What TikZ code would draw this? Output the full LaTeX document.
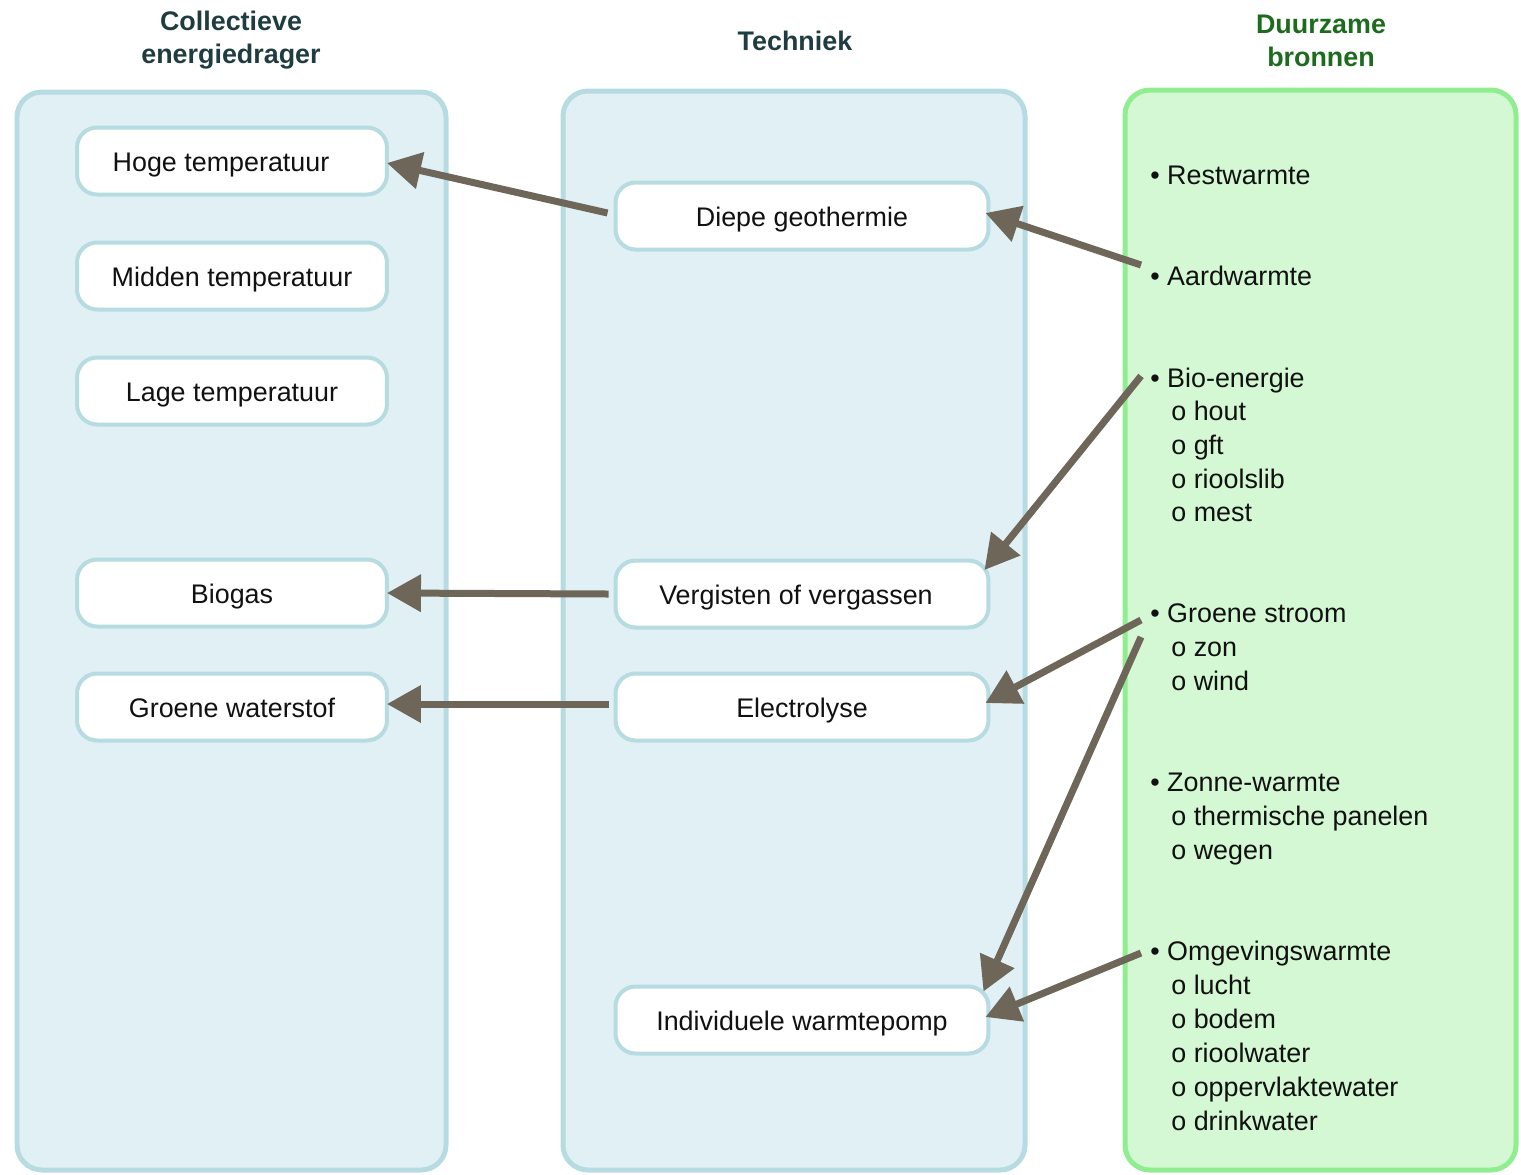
\documentclass[tikz,border=0pt]{standalone}
\usepackage{fontspec}
\setmainfont{Liberation Sans}
\usetikzlibrary{arrows.meta,calc}
\definecolor{colborder}{HTML}{B6DCE2}
\definecolor{colfill}{HTML}{E0F0F4}
\definecolor{grborder}{HTML}{90EE90}
\definecolor{grfill}{HTML}{D3F8D3}
\definecolor{arrcol}{HTML}{6E6759}
\definecolor{headblue}{HTML}{1F3C40}
\definecolor{headgreen}{HTML}{1D6B1D}
\definecolor{txt}{HTML}{111111}
\begin{document}
\begin{tikzpicture}[x=0.02cm,y=-0.02cm,
  column/.style={draw=colborder,fill=colfill,line width=0.1cm,rounded corners=0.5cm},
  gcolumn/.style={draw=grborder,fill=grfill,line width=0.1cm,rounded corners=0.5cm},
  leftbox/.style={draw=colborder,fill=white,line width=0.08cm,rounded corners=0.4cm,
    minimum width=6.2cm,minimum height=1.34cm,inner sep=0pt,text=txt,
    text height=0.46cm,text depth=0.06cm,
    font=\fontsize{15.3}{19}\selectfont},
  midbox/.style={leftbox,minimum width=7.46cm},
  head/.style={font=\fontsize{15.3}{18.7}\selectfont\bfseries,align=center,text=headblue},
  item/.style={anchor=base west,inner sep=0pt,text=txt,font=\fontsize{15.3}{19}\selectfont},
  arr/.style={draw=arrcol,line width=0.14cm,-{Triangle[length=0.68cm,width=0.72cm]}}
]
\useasboundingbox (0,0) rectangle (1521,1174);

% columns
\draw[column] (17,92) rectangle (446,1170);
\draw[column] (563,91) rectangle (1025,1170);
\draw[gcolumn] (1125,90) rectangle (1516,1170);

% headers
\node[head] (hA) at (231,40) {Collectieve\\energiedrager};
\node[head] (hB) at (795,41) {Techniek};
\node[head,text=headgreen] (hC) at (1321,41) {Duurzame\\bronnen};

% left column
\node[leftbox] (hoge) at (232,161) {Hoge temperatuur\hspace*{0.44cm}};
\node[leftbox] (midden) at (232,276) {Midden temperatuur};
\node[leftbox] (lage) at (232,391) {Lage temperatuur};
\node[leftbox] (biogas) at (232,593) {Biogas};
\node[leftbox] (gw) at (232,707) {Groene waterstof};

% middle column
\node[midbox] (diepe) at (802,216) {Diepe geothermie};
\node[midbox] (verg) at (802,594) {Vergisten of vergassen\hspace*{0.24cm}};
\node[midbox] (elec) at (802,707) {Electrolyse};
\node[midbox] (ind) at (802,1020) {Individuele warmtepomp};

% right column
\node[item] (rest) at (1150,184) {• Restwarmte};
\node[item] (aard) at (1150,285) {• Aardwarmte};
\node[item] (bio) at (1150,387) {• Bio-energie};
\node[item] (hout) at (1171,420) {o hout};
\node[item] (gft) at (1171,454) {o gft};
\node[item] (riool) at (1171,488) {o rioolslib};
\node[item] (mest) at (1171,521) {o mest};
\node[item] (gs) at (1150,622) {• Groene stroom};
\node[item] (zon) at (1171,656) {o zon};
\node[item] (wind) at (1171,690) {o wind};
\node[item] (zw) at (1150,791) {• Zonne-warmte};
\node[item] (therm) at (1171,825) {o thermische panelen};
\node[item] (wegen) at (1171,859) {o wegen};
\node[item] (omg) at (1150,960) {• Omgevingswarmte};
\node[item] (lucht) at (1171,994) {o lucht};
\node[item] (bodem) at (1171,1028) {o bodem};
\node[item] (rw) at (1171,1062) {o rioolwater};
\node[item] (opp) at (1171,1096) {o oppervlaktewater};
\node[item] (drink) at (1171,1130) {o drinkwater};

% arrows
\draw[arr] ($(diepe.west)+(-6,-3)$) -- ($(hoge.east)+(-2,2)$);
\draw[arr] ($(aard.base west)+(-9,-20)$) -- ($(diepe.east)+(-5,-3)$);
\draw[arr] ($(bio.base west)+(-9,-11)$) -- ($(verg.east)+(-6,-24)$);
\draw[arr] ($(verg.west)+(-5,0)$) -- ($(biogas.east)+(-2,0)$);
\draw[arr] ($(elec.west)+(-5,-3)$) -- ($(gw.east)+(-2,-3)$);
\draw[arr] ($(gs.base west)+(-9,-2)$) -- ($(elec.east)+(-5,-4)$);
\draw[arr] ($(gs.base west)+(-9,15)$) -- ($(ind.north east)+(-7,7)$);
\draw[arr] ($(omg.base west)+(-9,-7)$) -- ($(ind.east)+(-5,-3)$);
\end{tikzpicture}
\end{document}
